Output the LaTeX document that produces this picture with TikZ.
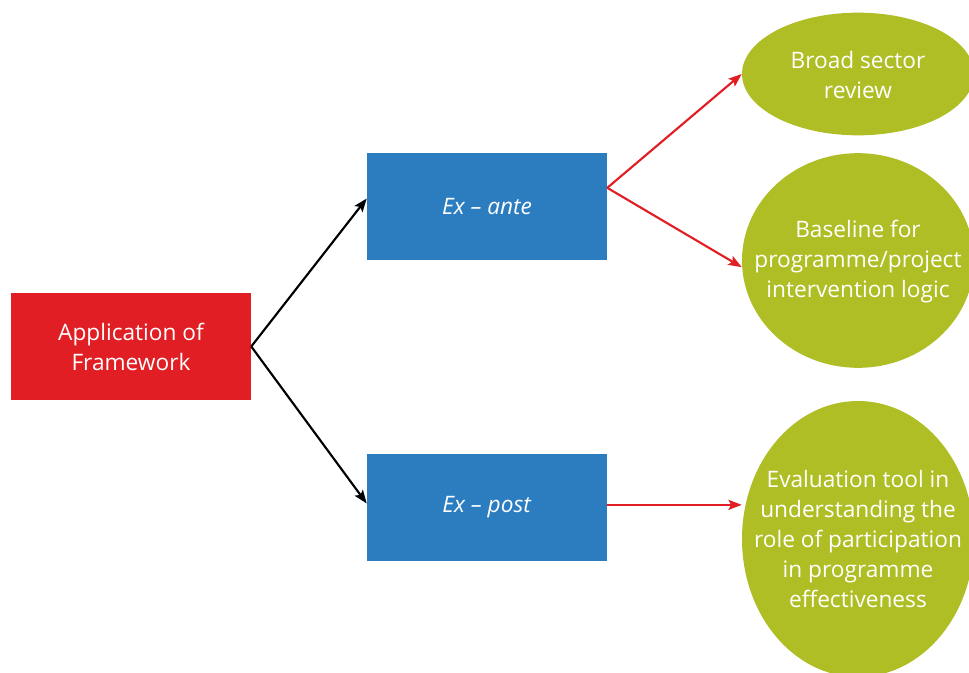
\documentclass[tikz,border=0pt]{standalone}
\usepackage{fontspec}
\setmainfont{Open Sans}
\usepackage{tikz}
\usetikzlibrary{shapes.geometric,arrows.meta}
\definecolor{frred}{RGB}{224,30,36}
\definecolor{frblue}{RGB}{43,125,192}
\definecolor{frgreen}{RGB}{175,190,36}

\begin{document}
\begin{tikzpicture}[x=0.75pt,y=-0.75pt,
            >={Stealth[length=10pt,width=7.5pt,inset=2pt]},
            txt/.style={text=white, align=center, font=\fontsize{17}{22.5}\selectfont},
            box/.style={txt, shape=rectangle, minimum width=180pt, minimum height=80pt, inner sep=0pt},
            bubble/.style={shape=ellipse, fill=frgreen, minimum width=174pt, inner sep=0pt}]
				\clip (0,0) rectangle (969,673);

				\node[box, fill=frred] (app) at (131,346.5) {Application of\\Framework};
				\node[box, fill=frblue] (ante) at (487,206.5) {\textit{Ex – ante}};
				\node[box, fill=frblue] (post) at (487,507.5) {\textit{Ex – post}};

				\node[bubble, minimum height=92pt] (broad) at (858,74) {};
				\node[bubble, minimum height=161pt] (base) at (858,260.5) {};
				\node[bubble, minimum height=207pt] (eval) at (858,539) {};
				\node[txt] (broadtxt) at ([yshift=-1pt]broad) {Broad sector\\review};
				\node[txt] (basetxt) at ([yshift=-1pt]base) {Baseline for\\programme/project\\intervention logic};
				\node[txt] (evaltxt) at (eval) {Evaluation tool in\\understanding the\\role of participation\\in programme\\effectiveness};

				\draw[line width=1.6pt,->] (app.east) -- ([yshift=6pt]ante.west);
				\draw[line width=1.6pt,->] (app.east) -- ([yshift=3pt]post.west);

				\coordinate (split) at ([yshift=14pt]ante.east);
				\draw[line width=1.6pt,frred,->] (split) -- (broad.west);
				\draw[line width=1.6pt,frred,->] (split) -- ([yshift=-5pt]base.west);
				\draw[line width=1.6pt,frred,->] ([yshift=2pt]post.east) -- ([yshift=2pt]post.east -| eval.west);
 		\end{tikzpicture}
\end{document}
